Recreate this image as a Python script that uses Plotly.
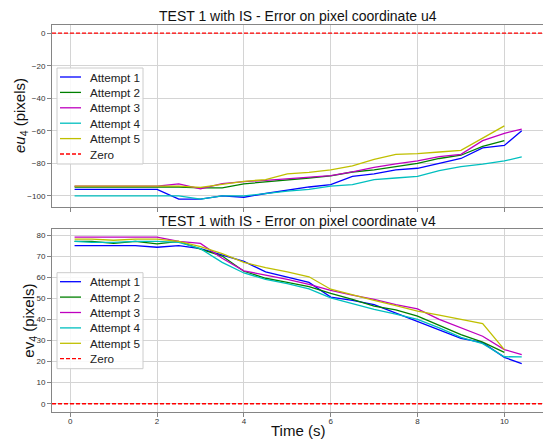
import plotly.graph_objects as go

# ---------------- data ----------------
t_long = [0.1, 0.5, 1.0, 1.5, 2.0, 2.5, 3.0, 3.5, 4.0, 4.5, 5.0, 5.5, 6.0,
          6.5, 7.0, 7.5, 8.0, 8.5, 9.0, 9.5, 10.0, 10.4]
t_short = t_long[:-1]

names = ["Attempt 1", "Attempt 2", "Attempt 3", "Attempt 4", "Attempt 5"]
colors = ["#0000ff", "#008000", "#bf00bf", "#00bfbf", "#bfbf00"]
zero_name = "Zero"
zero_color = "#ff0000"

eu1 = [-96, -96, -96, -96, -96, -102, -102, -100, -100.8, -98.5, -96.5, -94.5,
       -93, -88, -86.5, -84, -83, -79.8, -77, -70.5, -69, -60]
eu2 = [-94.5, -94.5, -94.5, -94.5, -94.5, -94.5, -95, -95, -92.6, -91.5, -90,
       -89, -87.7, -85.3, -84, -82, -80, -77, -75, -69.5, -66]
eu3 = [-94, -94, -94, -94, -94, -92.6, -95.7, -92.5, -91.2, -90.5, -89.5,
       -88.5, -87.5, -85.2, -82.5, -80.3, -78.5, -75.8, -74.5, -66, -61.5, -59]
eu4 = [-100, -100, -100, -100, -100, -100, -102, -100, -100, -98.5, -97, -96,
       -94, -93, -90, -89, -88, -84.5, -82, -80.5, -78.5, -76]
eu5 = [-94, -94, -94, -94, -94, -94, -94.8, -93, -91, -90, -86.5, -85.5, -84,
       -81.6, -77.5, -74.5, -74, -73, -72, -64.5, -57]

ev1 = [75, 75, 75, 75, 74.2, 75, 73.5, 70.5, 67.5, 62.5, 60, 57.5, 50.6, 49,
       47, 43, 38.7, 35, 31, 29, 22, 19]
ev2 = [77, 77, 76, 77, 75.8, 77, 73.3, 70, 62.8, 59.5, 57.5, 55.5, 52.3, 49.5,
       46.3, 44.5, 41.5, 37, 32.8, 29.2, 24.4]
ev3 = [79, 79, 79, 79, 79, 77, 76, 69, 63, 61, 59, 56.6, 53.7, 51.5, 49.5, 47,
       45, 40, 36, 32, 25.7, 23.3]
ev4 = [77, 76.5, 76.5, 77, 77, 76.5, 73.5, 67, 62, 59, 57, 54.5, 50.2, 47.5,
       44.7, 42.5, 40, 36, 31.5, 28.5, 22.3, 22.2]
ev5 = [78, 78, 77.5, 78, 78, 77, 74.5, 71.2, 67, 64.5, 62.5, 60.2, 54.3, 51.5,
       49, 46.5, 43.9, 42, 40, 38, 25.7]

times = [t_long, t_short, t_long, t_long, t_short]
eu = [eu1, eu2, eu3, eu4, eu5]
ev = [ev1, ev2, ev3, ev4, ev5]

x_ticks = [0, 2, 4, 6, 8, 10]
u_ticks = [0, -20, -40, -60, -80, -100]
v_ticks = [0, 10, 20, 30, 40, 50, 60, 70, 80]
X_RANGE = [-0.42, 10.89]
U_RANGE = [-106.8, 5]
V_RANGE = [-3.9, 82.7]

title_u = "TEST 1 with IS - Error on pixel coordinate u4"
title_v = "TEST 1 with IS - Error on pixel coordinate v4"
ylabel_u = "<i>eu</i><sub>4</sub> (pixels)"
ylabel_v = "ev<sub>4</sub> (pixels)"
xlabel = "Time (s)"

# ---------------- layout helpers (pixel -> paper) ----------------
W, H = 543, 441
ML, MR, MT, MB = 52, 0, 25, 29
PW, PH = W - ML - MR, H - MT - MB


def px2x(px):
    return (px - ML) / PW


def py2y(py):
    return (H - MB - py) / PH


top_dom = [py2y(207), 1.0]
bot_dom = [0.0, py2y(229.3)]

FONT = "Liberation Sans"
DASH = "4px,2px"

# ---------------- figure ----------------
fig = go.Figure()

for i in range(5):
    fig.add_trace(go.Scatter(x=times[i], y=eu[i], mode="lines", name=names[i],
                             line=dict(color=colors[i], width=1.3),
                             xaxis="x", yaxis="y", showlegend=False))
fig.add_trace(go.Scatter(x=X_RANGE, y=[0, 0], mode="lines", name=zero_name,
                         line=dict(color=zero_color, width=1.3, dash=DASH),
                         xaxis="x", yaxis="y", showlegend=False))

for i in range(5):
    fig.add_trace(go.Scatter(x=times[i], y=ev[i], mode="lines", name=names[i],
                             line=dict(color=colors[i], width=1.3),
                             xaxis="x2", yaxis="y2", showlegend=False))
fig.add_trace(go.Scatter(x=X_RANGE, y=[0, 0], mode="lines", name=zero_name,
                         line=dict(color=zero_color, width=1.3, dash=DASH),
                         xaxis="x2", yaxis="y2", showlegend=False))

axis_common = dict(showgrid=True, gridcolor="#d4d4d4", gridwidth=1,
                   showline=True, linecolor="#858585", linewidth=1,
                   ticks="outside", ticklen=4, tickcolor="#858585",
                   tickfont=dict(family=FONT, size=8, color="#333333"),
                   zeroline=False)

fig.update_layout(
    width=W, height=H,
    margin=dict(l=ML, r=MR, t=MT, b=MB),
    paper_bgcolor="white", plot_bgcolor="white",
    showlegend=False,
    xaxis=dict(range=X_RANGE, tickvals=x_ticks, showticklabels=False,
               domain=[0, 1], anchor="y", mirror=True, **axis_common),
    yaxis=dict(range=U_RANGE, tickvals=u_ticks, domain=top_dom, anchor="x",
               **axis_common),
    xaxis2=dict(range=X_RANGE, tickvals=x_ticks, domain=[0, 1], anchor="y2",
                mirror=True, ticklabelstandoff=-3, **axis_common),
    yaxis2=dict(range=V_RANGE, tickvals=v_ticks, domain=bot_dom, anchor="x2",
                **axis_common),
    font=dict(family=FONT),
)

# ---------------- legends (drawn as in the reference) ----------------
leg_names = names + [zero_name]
leg_colors = colors + [zero_color]
leg_dash = ["solid"] * 5 + [DASH]


def draw_legend(box_top, first_row):
    fig.add_shape(type="rect", xref="paper", yref="paper",
                  x0=px2x(57), x1=px2x(143), y0=py2y(box_top),
                  y1=py2y(box_top + 96), fillcolor="rgba(255,255,255,0.85)",
                  line=dict(color="#cccccc", width=1), layer="above")
    for k in range(6):
        yy = py2y(first_row + 15.4 * k)
        fig.add_shape(type="line", xref="paper", yref="paper",
                      x0=px2x(60), x1=px2x(81), y0=yy, y1=yy,
                      line=dict(color=leg_colors[k], width=1.3,
                                dash=leg_dash[k]), layer="above")
        fig.add_annotation(text=leg_names[k], xref="paper", yref="paper",
                           x=px2x(88), y=yy, xanchor="left", yanchor="middle",
                           showarrow=False,
                           font=dict(family=FONT, size=11.7, color="#222222"))


draw_legend(68, 77)
draw_legend(272.7, 281.7)

ann_font_t = dict(family=FONT, size=14, color="#111111")
ann_font_l = dict(family=FONT, size=15, color="#111111")
fig.add_annotation(text=title_u, xref="paper", yref="paper", x=0.5,
                   y=py2y(16), xanchor="center", yanchor="middle",
                   showarrow=False, font=ann_font_t)
fig.add_annotation(text=title_v, xref="paper", yref="paper", x=0.5,
                   y=py2y(221), xanchor="center", yanchor="middle",
                   showarrow=False, font=ann_font_t)
fig.add_annotation(text=ylabel_u, xref="paper", yref="paper", x=px2x(20),
                   y=(top_dom[0] + 1) / 2, textangle=-90, xanchor="center",
                   yanchor="middle", showarrow=False, font=ann_font_l)
fig.add_annotation(text=ylabel_v, xref="paper", yref="paper", x=px2x(30),
                   y=bot_dom[1] / 2, textangle=-90, xanchor="center",
                   yanchor="middle", showarrow=False, font=ann_font_l)
fig.add_annotation(text=xlabel, xref="paper", yref="paper", x=px2x(297.5),
                   y=py2y(430.5), xanchor="center", yanchor="middle",
                   showarrow=False, font=dict(family=FONT, size=15,
                                              color="#111111"))

fig.write_html("out.html", config={"displayModeBar": False},
               post_script="document.body.style.margin='0';"
                           "document.body.style.overflow='hidden';")
